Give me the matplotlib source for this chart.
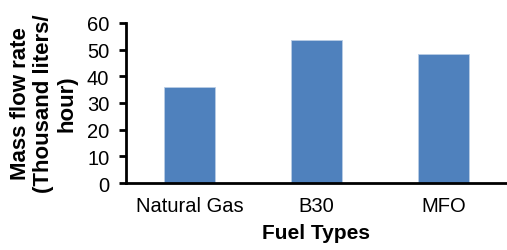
import matplotlib
matplotlib.use("Agg")
import matplotlib.pyplot as plt

categories = ["Natural Gas", "B30", "MFO"]
values = [36.0, 53.7, 48.2]
yticks = [0, 10, 20, 30, 40, 50, 60]

plt.rcParams['font.family'] = ['Liberation Sans', 'DejaVu Sans']

fig = plt.figure(figsize=(5.07, 2.51), dpi=100)
ax = fig.add_axes([126/507, 1-184/251, 381/507, 160/251])
x = range(len(categories))
ax.bar(x, values, width=0.4, color='#4F81BD', edgecolor='#B9CDE5', linewidth=0.6)
ax.set_xlim(-0.5, 2.5)
ax.set_ylim(0, 60)
ax.set_yticks(yticks)
ax.set_xticks(list(x))
ax.set_xticklabels(categories, fontsize=14.5)
ax.tick_params(axis='y', labelsize=14.5, direction='out', length=5, width=2, pad=7)
ax.tick_params(axis='x', length=0, pad=9)
for s in ['top', 'right']:
    ax.spines[s].set_visible(False)
for s in ['left', 'bottom']:
    ax.spines[s].set_linewidth(2)
ax.set_ylabel("Mass flow rate\n(Thousand liters/\nhour)", fontsize=16, fontweight='bold', linespacing=1.12, labelpad=7)
ax.set_xlabel("Fuel Types", fontsize=15, fontweight='bold', labelpad=6)
fig.savefig("out.png", dpi=100)
